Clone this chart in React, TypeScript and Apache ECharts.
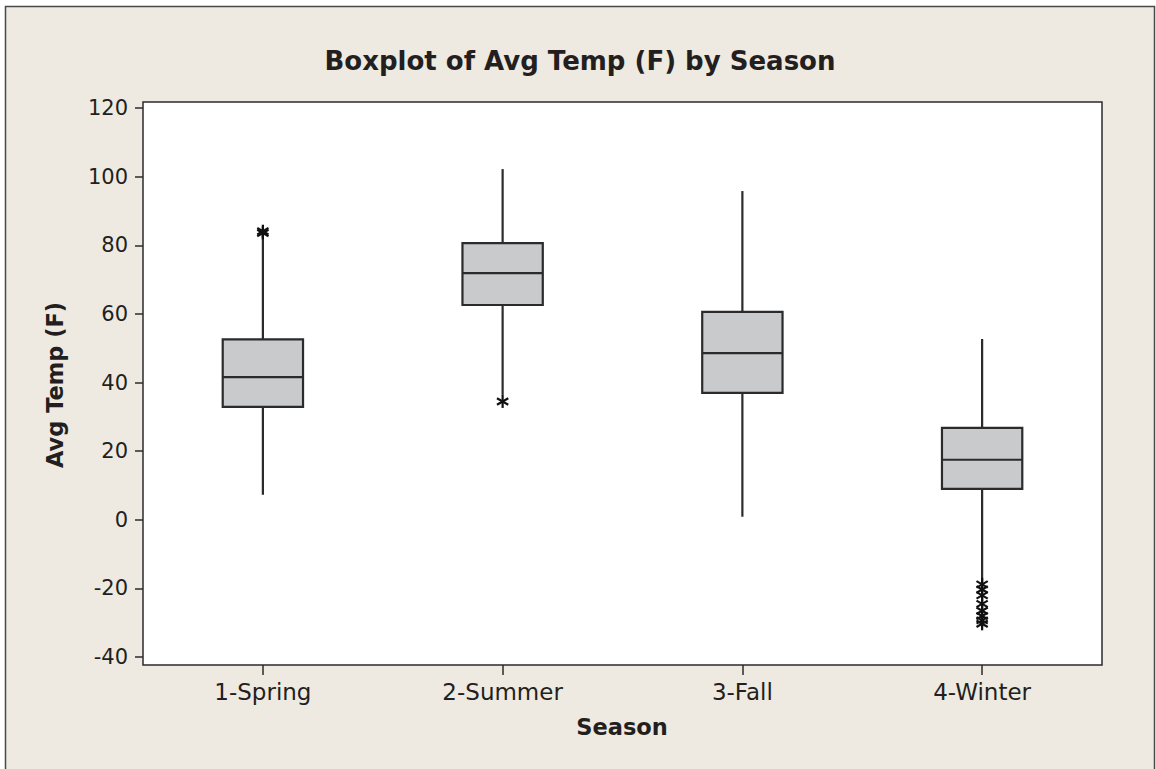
import React, { useEffect, useRef } from "react";
import * as echarts from "echarts";

const categories = ["1-Spring", "2-Summer", "3-Fall", "4-Winter"];
const whiskerLow = [7.3, 36.4, 0.9, -18.5];
const q1 = [32.9, 62.6, 37.0, 9.0];
const median = [41.6, 71.9, 48.6, 17.5];
const q3 = [52.6, 80.6, 60.6, 26.8];
const whiskerHigh = [83.0, 102.2, 95.8, 52.7];
// [category index, value]
const outliers: [number, number][] = [
  [0, 83.6], [0, 84.1],
  [1, 34.5],
  [3, -18.8], [3, -20.3], [3, -22.0], [3, -24.5], [3, -26.5], [3, -28.0], [3, -29.3], [3, -30.3],
];
const yTicks = [-40, -20, 0, 20, 40, 60, 80, 100, 120];

const TITLE = "Boxplot of Avg Temp (F) by Season";
const X_NAME = "Season";
const Y_NAME = "Avg Temp (F)";

const INK = "#231F20";
const LINE = "#2b2b2b";
const FONT = '"DejaVu Sans", Verdana, sans-serif';

export default function App() {
  const ref = useRef<HTMLDivElement>(null);
  useEffect(() => {
    if (!ref.current) return;
    const chart = echarts.init(ref.current, undefined, { renderer: "svg" });
    const boxData = categories.map((_, i) => [i, whiskerLow[i], q1[i], median[i], q3[i], whiskerHigh[i]]);
    chart.setOption({
      animation: false,
      backgroundColor: "#ffffff",
      graphic: [
        {
          type: "rect",
          z: -10,
          shape: { x: 5.5, y: 6.5, width: 1149, height: 800 },
          style: { fill: "#EEEAE1", stroke: "#4a4a4a", lineWidth: 1.5 },
        },
        {
          type: "text",
          x: 580,
          y: 61,
          style: { text: TITLE, font: `bold 26px ${FONT}`, fill: INK, align: "center", verticalAlign: "middle" },
        },
        {
          type: "text",
          x: 55,
          y: 385,
          rotation: Math.PI / 2,
          style: { text: Y_NAME, font: `bold 22.5px ${FONT}`, fill: INK, align: "center", verticalAlign: "middle" },
        },
        {
          type: "text",
          x: 622,
          y: 727,
          style: { text: X_NAME, font: `bold 22.5px ${FONT}`, fill: INK, align: "center", verticalAlign: "middle" },
        },
      ],
      grid: {
        show: true,
        left: 143,
        top: 102,
        right: 54,
        bottom: 104,
        backgroundColor: "#ffffff",
        borderColor: LINE,
        borderWidth: 1.5,
      },
      xAxis: {
        type: "category",
        data: categories,
        boundaryGap: true,
        axisLine: { show: false, onZero: false },
        axisTick: { show: true, alignWithLabel: true, length: 10, lineStyle: { color: LINE, width: 1.5 } },
        axisLabel: { margin: 15, fontSize: 23, fontFamily: FONT, color: INK },
        splitLine: { show: false },
      },
      yAxis: {
        type: "value",
        min: -42.3,
        max: 121.75,
        axisLine: { show: false, onZero: false },
        axisTick: { show: true, customValues: yTicks, length: 8, lineStyle: { color: LINE, width: 1.5 } },
        axisLabel: { customValues: yTicks, margin: 15, fontSize: 21, fontFamily: FONT, color: INK },
        splitLine: { show: false },
      },
      series: [
        {
          type: "custom",
          data: boxData,
          encode: { x: 0, y: [1, 2, 3, 4, 5] },
          renderItem: (params: any, api: any) => {
            const x = api.value(0);
            const pLow = api.coord([x, api.value(1)]);
            const pQ1 = api.coord([x, api.value(2)]);
            const pMed = api.coord([x, api.value(3)]);
            const pQ3 = api.coord([x, api.value(4)]);
            const pHigh = api.coord([x, api.value(5)]);
            const bw = api.size([1, 0])[0] * 0.335;
            const cx = pMed[0];
            const st = { stroke: LINE, lineWidth: 2.2 };
            return {
              type: "group",
              children: [
                { type: "line", shape: { x1: cx, y1: pLow[1], x2: cx, y2: pQ1[1] }, style: st },
                { type: "line", shape: { x1: cx, y1: pQ3[1], x2: cx, y2: pHigh[1] }, style: st },
                {
                  type: "rect",
                  shape: { x: cx - bw / 2, y: pQ3[1], width: bw, height: pQ1[1] - pQ3[1] },
                  style: { fill: "#C9CACC", stroke: LINE, lineWidth: 2.2 },
                },
                { type: "line", shape: { x1: cx - bw / 2, y1: pMed[1], x2: cx + bw / 2, y2: pMed[1] }, style: st },
              ],
            };
          },
        },
        {
          type: "custom",
          data: outliers,
          encode: { x: 0, y: 1 },
          renderItem: (params: any, api: any) => {
            const p = api.coord([api.value(0), api.value(1)]);
            const r = 6.5;
            const st = { stroke: "#111", lineWidth: 2.2 };
            const a = Math.PI / 6;
            const dx = r * Math.cos(a);
            const dy = r * Math.sin(a);
            return {
              type: "group",
              children: [
                { type: "line", shape: { x1: p[0], y1: p[1] - r, x2: p[0], y2: p[1] + r }, style: st },
                { type: "line", shape: { x1: p[0] - dx, y1: p[1] - dy, x2: p[0] + dx, y2: p[1] + dy }, style: st },
                { type: "line", shape: { x1: p[0] - dx, y1: p[1] + dy, x2: p[0] + dx, y2: p[1] - dy }, style: st },
              ],
            };
          },
        },
      ],
    });
    return () => chart.dispose();
  }, []);
  return <div ref={ref} style={{ position: "absolute", left: 0, top: 0, width: 1156, height: 769 }} />;
}
